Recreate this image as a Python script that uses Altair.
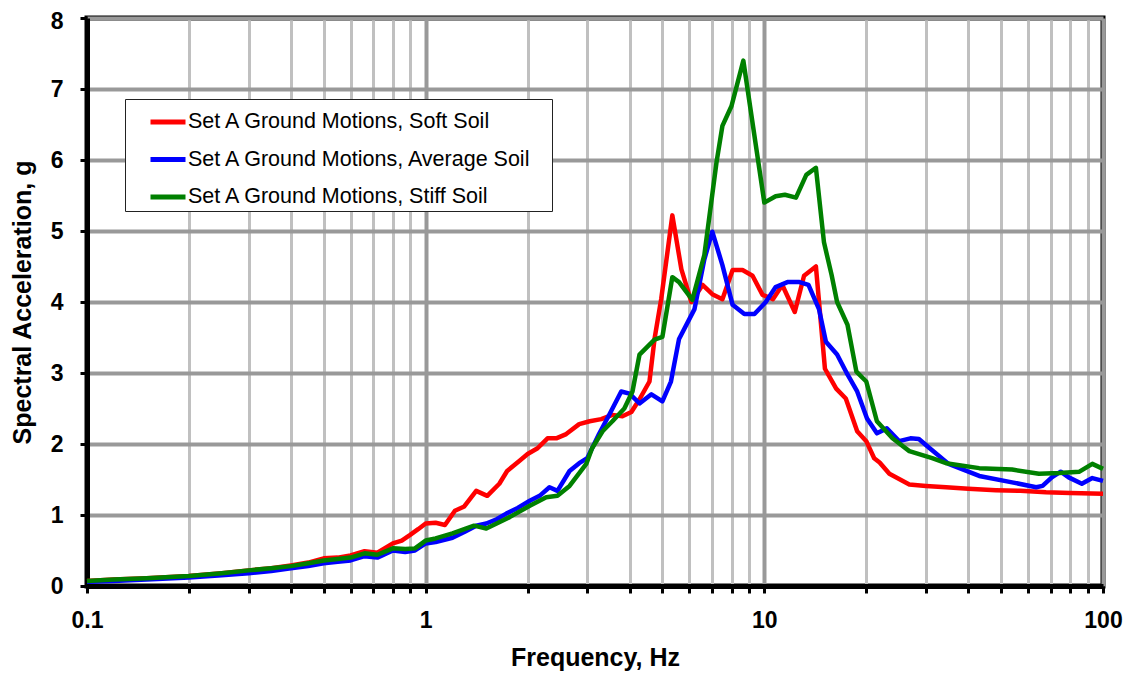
import altair as alt
import pandas as pd

series_names = [
    "Set A Ground Motions, Soft Soil",
    "Set A Ground Motions, Average Soil",
    "Set A Ground Motions, Stiff Soil",
]
series_colors = ["#ff0000", "#0000ff", "#008000"]

soft_f = [0.1, 0.12, 0.15, 0.2, 0.25, 0.3, 0.35, 0.4, 0.45, 0.5, 0.55, 0.6, 0.66, 0.72, 0.8, 0.85, 0.9,
          0.95, 1.0, 1.07, 1.14, 1.22, 1.3, 1.41, 1.52, 1.65, 1.74, 1.89, 2.0, 2.14, 2.29, 2.43, 2.6,
          2.84, 3.05, 3.3, 3.56, 3.81, 4.05, 4.28, 4.58, 4.74, 4.96, 5.35, 5.69, 6.09, 6.57, 7.02,
          7.52, 8.06, 8.62, 9.23, 9.88, 10.6, 11.3, 12.3, 13.1, 14.2, 15.1, 16.3, 17.4, 18.8, 20.0,
          21.1, 21.9, 23.4, 26.8, 30.0, 34.4, 40.0, 48.3, 57.0, 67.9, 80.0, 100.0]
soft_v = [0.07, 0.09, 0.11, 0.14, 0.18, 0.22, 0.25, 0.29, 0.33, 0.39, 0.40, 0.43, 0.49, 0.47, 0.60, 0.64,
          0.72, 0.80, 0.88, 0.89, 0.86, 1.06, 1.12, 1.34, 1.27, 1.44, 1.62, 1.76, 1.86, 1.94, 2.08,
          2.08, 2.14, 2.28, 2.32, 2.35, 2.41, 2.39, 2.45, 2.63, 2.88, 3.48, 4.04, 5.22, 4.46, 4.00,
          4.24, 4.11, 4.04, 4.45, 4.45, 4.37, 4.10, 4.04, 4.24, 3.86, 4.37, 4.50, 3.06, 2.78, 2.64,
          2.18, 2.04, 1.80, 1.74, 1.58, 1.43, 1.41, 1.39, 1.37, 1.35, 1.34, 1.32, 1.31, 1.30]

avg_f = [0.1, 0.12, 0.15, 0.2, 0.25, 0.3, 0.35, 0.4, 0.45, 0.5, 0.55, 0.6, 0.66, 0.72, 0.8, 0.87, 0.93,
         1.0, 1.07, 1.2, 1.3, 1.41, 1.51, 1.62, 1.73, 1.87, 2.03, 2.17, 2.32, 2.45, 2.66, 2.84, 3.0,
         3.25, 3.49, 3.78, 4.0, 4.28, 4.64, 5.0, 5.3, 5.6, 6.22, 6.65, 7.02, 7.52, 8.06, 8.73, 9.35,
         10.1, 10.8, 11.7, 12.7, 13.5, 14.5, 15.2, 16.4, 17.6, 18.8, 20.1, 21.5, 23.0, 25.0, 27.0,
         28.6, 30.6, 35.0, 43.1, 53.9, 63.5, 66.3, 70.6, 75.0, 79.2, 86.6, 93.0, 100.0]
avg_v = [0.06, 0.07, 0.09, 0.12, 0.15, 0.18, 0.21, 0.25, 0.28, 0.32, 0.34, 0.36, 0.42, 0.40, 0.50, 0.48,
         0.50, 0.60, 0.62, 0.68, 0.76, 0.85, 0.88, 0.94, 1.02, 1.10, 1.20, 1.27, 1.39, 1.34, 1.62,
         1.73, 1.80, 2.14, 2.42, 2.74, 2.71, 2.57, 2.70, 2.60, 2.88, 3.48, 3.90, 4.60, 4.99, 4.52,
         3.96, 3.83, 3.83, 4.00, 4.21, 4.28, 4.28, 4.24, 3.90, 3.44, 3.26, 2.98, 2.74, 2.36, 2.15,
         2.22, 2.04, 2.08, 2.07, 1.95, 1.72, 1.55, 1.46, 1.39, 1.41, 1.53, 1.61, 1.53, 1.44, 1.52, 1.48]

stiff_f = [0.1, 0.12, 0.15, 0.2, 0.25, 0.3, 0.35, 0.4, 0.45, 0.5, 0.55, 0.6, 0.66, 0.72, 0.8, 0.87, 0.93,
           1.0, 1.07, 1.2, 1.39, 1.51, 1.62, 1.77, 2.03, 2.27, 2.45, 2.66, 2.98, 3.1, 3.33, 3.56, 3.86,
           4.08, 4.28, 4.74, 5.0, 5.35, 5.6, 6.13, 6.65, 7.22, 7.52, 8.0, 8.67, 10.0, 10.8, 11.5, 12.4,
           13.3, 14.2, 15.0, 15.8, 16.4, 17.6, 18.7, 20.0, 21.5, 23.9, 26.8, 31.3, 34.4, 43.1, 53.9,
           64.7, 74.2, 85.2, 93.0, 100.0]
stiff_v = [0.07, 0.09, 0.11, 0.14, 0.18, 0.22, 0.25, 0.28, 0.32, 0.36, 0.38, 0.40, 0.46, 0.44, 0.53, 0.52,
           0.53, 0.64, 0.67, 0.74, 0.85, 0.81, 0.88, 0.97, 1.13, 1.25, 1.27, 1.41, 1.72, 1.94, 2.18,
           2.32, 2.50, 2.74, 3.26, 3.47, 3.51, 4.35, 4.28, 4.03, 4.66, 5.96, 6.48, 6.76, 7.40, 5.40,
           5.49, 5.51, 5.47, 5.79, 5.89, 4.84, 4.38, 4.00, 3.68, 3.02, 2.88, 2.32, 2.08, 1.90, 1.80,
           1.73, 1.66, 1.64, 1.58, 1.59, 1.61, 1.72, 1.65]

x_ticks = [round(k * 10 ** e, 6) for e in (-1, 0, 1) for k in range(1, 10)] + [100.0]
y_ticks = [0, 1, 2, 3, 4, 5, 6, 7, 8]

rows = []
for name, fs, vs in zip(series_names, [soft_f, avg_f, stiff_f], [soft_v, avg_v, stiff_v]):
    for f, v in zip(fs, vs):
        rows.append({"series": name, "freq": f, "sa": v})
df = pd.DataFrame(rows)

font = "Liberation Sans"
major_test = "datum.value == 0.1 || datum.value == 1 || datum.value == 10 || datum.value == 100"
label_pad = "\u2800"

x_enc = alt.X(
    "freq:Q",
    scale=alt.Scale(type="log", domain=[0.1, 100], nice=False),
    axis=alt.Axis(
        values=x_ticks,
        title="Frequency, Hz",
        labelExpr="(" + major_test + ") ? format(datum.value, '.1~f') : ''",
        labelOverlap=False,
        labelFlush=False,
        gridColor={"condition": {"test": major_test, "value": "#999999"}, "value": "#c0c0c0"},
        gridWidth={"condition": {"test": major_test, "value": 4}, "value": 3},
        labelPadding=16,
        titlePadding=13,
    ),
)
y_enc = alt.Y(
    "sa:Q",
    scale=alt.Scale(domain=[0, 8], nice=False, zero=True),
    axis=alt.Axis(
        values=y_ticks,
        title="Spectral Acceleration, g",
        gridColor="#999999",
        gridWidth=4,
        labelPadding=17,
        labelOffset={"condition": {"test": "datum.value == 8", "value": 3}, "value": 0},
        titlePadding=15,
    ),
)
color_enc = alt.Color(
    "series:N",
    scale=alt.Scale(domain=series_names, range=series_colors),
    legend=alt.Legend(
        title=None,
        orient="none",
        legendX=38,
        legendY=81,
        symbolType="stroke",
        symbolStrokeWidth=5,
        symbolSize=1225,
        symbolOffset=20,
        labelFontSize=21.5,
        labelFont=font,
        labelColor="black",
        labelOffset=0,
        labelLimit=700,
        labelExpr="datum.label + '" + label_pad + "'",
        rowPadding=6.5,
        padding=3,
        strokeColor="#222222",
        fillColor="white",
    ),
)

layers = []
for name in series_names:
    layers.append(
        alt.Chart(df)
        .transform_filter(alt.datum.series == name)
        .mark_line(strokeWidth=4.5, strokeJoin="round")
        .encode(x=x_enc, y=y_enc, color=color_enc)
    )

chart = (
    alt.layer(*layers)
    .properties(
        width=1016,
        height=568,
        autosize=alt.AutoSizeParams(type="none"),
        padding={"left": 79, "top": 10, "right": 20, "bottom": 90},
    )
    .configure_view(stroke="black", strokeWidth=5)
    .configure_axis(
        domain=True,
        domainColor="black",
        domainWidth=5,
        tickColor="black",
        tickWidth=3,
        tickSize=7,
        labelFont=font,
        labelFontSize=23,
        labelFontWeight="bold",
        labelColor="black",
        titleFont=font,
        titleFontSize=25,
        titleFontWeight="bold",
        titleColor="black",
    )
)

chart.save("out.html", embed_options={"renderer": "svg", "actions": False})
